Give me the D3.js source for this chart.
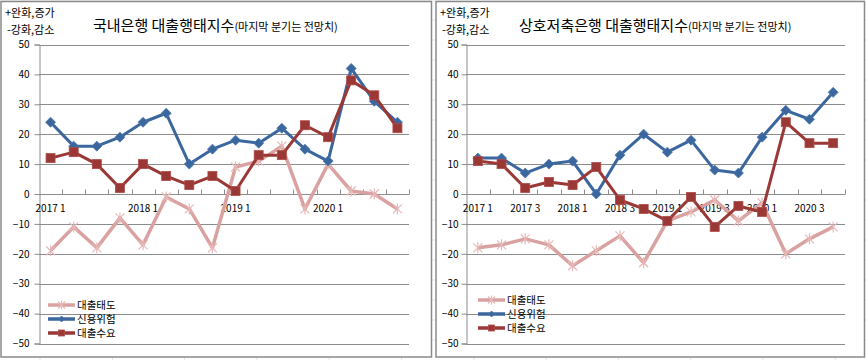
<!DOCTYPE html>
<html><head><meta charset="utf-8">
<script src="https://cdn.jsdelivr.net/npm/d3@7"></script>
<style>
html,body{margin:0;padding:0;background:#fff;}
svg{display:block;}
text{font-family:"Noto Sans CJK KR","Noto Sans",sans-serif;fill:#000;}
</style></head>
<body>
<svg id="c" width="866" height="360"></svg>
<script>
// ---------- DATA ----------
const quarters = ["2017 1","2017 2","2017 3","2017 4","2018 1","2018 2","2018 3","2018 4",
                  "2019 1","2019 2","2019 3","2019 4","2020 1","2020 2","2020 3","2020 4"];
const seriesNames = ["대출태도","신용위험","대출수요"];
const yTicks = [50,40,30,20,10,0,-10,-20,-30,-40,-50];

// 국내은행
const bankAttitude = [-19,-11,-18,-8,-17,-1,-5,-18,9,11,16,-5,10,1,0,-5];
const bankRisk     = [24,16,16,19,24,27,10,15,18,17,22,15,11,42,31,24];
const bankDemand   = [12,14,10,2,10,6,3,6,1,13,13,23,19,38,33,22];
const bankLabels   = ["2017 1","2018 1","2019 1","2020 1"];

// 상호저축은행
const savAttitude = [-18,-17,-15,-17,-24,-19,-14,-23,-9,-6,-2,-9,-3,-20,-15,-11];
const savRisk     = [12,12,7,10,11,0,13,20,14,18,8,7,19,28,25,34];
const savDemand   = [11,10,2,4,3,9,-2,-5,-9,-1,-11,-4,-6,24,17,17];
const savLabels   = ["2017 1","2017 3","2018 1","2018 3","2019 1","2019 3","2020 1","2020 3"];

// ---------- STYLE ----------
const colPink = "#D9A2A0", colBlue = "#3B679E", colRed = "#9A3836";
const gridCol = "#8c8c8c";

const svg = d3.select("#c");

// faint spreadsheet background grid
const bg = svg.append("g");
for (let x = 40; x < 866; x += 72.3) bg.append("line").attr("x1",x).attr("x2",x).attr("y1",0).attr("y2",360).attr("stroke","#e3e3e3");
for (let y = 0; y < 360; y += 20) bg.append("line").attr("x1",0).attr("x2",866).attr("y1",y).attr("y2",y).attr("stroke","#e3e3e3");

function chart(cfg){
  const g = svg.append("g");
  g.append("rect").attr("x",cfg.bx).attr("y",1.5).attr("width",cfg.bw).attr("height",355.5)
    .attr("fill","#fff").attr("stroke","#8a8a8a").attr("stroke-width",1.5);

  const y = d3.scaleLinear().domain([-50,50]).range([343.5,44.5]);
  const x = d3.scaleBand().domain(quarters).range([cfg.x0,cfg.x1]).padding(0);
  const cx = q => x(q) + x.bandwidth()/2;

  // gridlines
  g.append("g").selectAll("line").data(yTicks).join("line")
    .attr("x1",cfg.x0).attr("x2",cfg.x1).attr("y1",d=>Math.round(y(d))+0.5).attr("y2",d=>Math.round(y(d))+0.5)
    .attr("stroke",gridCol).attr("stroke-width",1);

  // y axis
  const ya = g.append("g").attr("transform",`translate(${cfg.x0+0.5},0)`)
    .call(d3.axisLeft(y).tickValues(yTicks).tickSize(5).tickPadding(cfg.labPad).tickFormat(d3.format("d")));
  ya.select(".domain").attr("stroke",gridCol);
  ya.selectAll(".tick line").attr("stroke",gridCol);
  ya.selectAll(".tick text").attr("font-size","10px").attr("font-family",'"Noto Sans CJK KR",sans-serif');

  // x axis at 0 : boundary ticks + labels
  const y0 = Math.round(y(0))+0.5;
  const bounds = quarters.map(q=>x(q)).concat([cfg.x1]).slice(1);
  g.append("g").selectAll("line").data(bounds).join("line")
    .attr("x1",d=>Math.round(d)+0.5).attr("x2",d=>Math.round(d)+0.5).attr("y1",y0-5).attr("y2",y0)
    .attr("stroke",gridCol);
  g.append("g").selectAll("text").data(cfg.labels).join("text")
    .attr("x",d=>cx(d)).attr("y",y0+17).attr("text-anchor","middle").attr("font-size","10px").text(d=>d);

  const line = d3.line().x((d,i)=>cx(quarters[i])).y(d=>y(d));
  const series = [
    {name:seriesNames[0], data:cfg.att, color:colPink, w:3.5, m:"star"},
    {name:seriesNames[1], data:cfg.risk, color:colBlue, w:3, m:"diamond"},
    {name:seriesNames[2], data:cfg.dem, color:colRed, w:3, m:"square"}
  ];
  function marker(sel, m, color, s){
    if (m==="star"){
      sel.append("path").attr("d",`M${-s},${-s}L${s},${s}M${-s},${s}L${s},${-s}M0,${-s-1}L0,${s+1}`)
        .attr("stroke","#E6B9B8").attr("stroke-width",1.2).attr("fill","none");
    } else if (m==="diamond"){
      sel.append("path").attr("d",`M0,${-s}L${s},0L0,${s}L${-s},0Z`).attr("fill",color).attr("stroke","#4a78b0").attr("stroke-width",0.8);
    } else {
      sel.append("rect").attr("x",-s).attr("y",-s).attr("width",2*s).attr("height",2*s).attr("fill",color).attr("stroke","#b04a48").attr("stroke-width",0.8);
    }
  }
  series.forEach(s=>{
    g.append("path").datum(s.data).attr("d",line).attr("fill","none").attr("stroke",s.color)
      .attr("stroke-width",s.w).attr("stroke-linejoin","round");
    const mk = g.append("g").selectAll("g").data(s.data).join("g")
      .attr("transform",(d,i)=>`translate(${cx(quarters[i])},${y(d)})`);
    mk.each(function(){ marker(d3.select(this), s.m, s.color, s.m==="star"?4.5:(s.m==="diamond"?5:4.5)); });
  });

  // legend
  series.forEach((s,i)=>{
    const ly = cfg.legY + i*14;
    const lg = g.append("g");
    lg.append("line").attr("x1",cfg.legX).attr("x2",cfg.legX+27).attr("y1",ly).attr("y2",ly)
      .attr("stroke",s.color).attr("stroke-width",3.5);
    const mg = lg.append("g").attr("transform",`translate(${cfg.legX+13.5},${ly})`);
    marker(mg, s.m, s.color, s.m==="star"?3.5:3);
    lg.append("text").attr("x",cfg.legX+29).attr("y",ly+4).attr("font-size","10.5px").text(s.name);
  });

  // titles
  g.append("text").attr("x",cfg.bx+4).attr("y",17).attr("font-size","11px").text("+완화,증가");
  g.append("text").attr("x",cfg.bx+6).attr("y",34).attr("font-size","11px").text("-강화,감소");
  const t = g.append("text").attr("x",cfg.tx).attr("y",31);
  t.append("tspan").attr("font-size","15px").text(cfg.title);
  t.append("tspan").attr("font-size","11px").text("(마지막 분기는 전망치)");
}

chart({bx:1, bw:430.5, x0:39, x1:409, labPad:5, labels:bankLabels,
  att:bankAttitude, risk:bankRisk, dem:bankDemand, legX:48, legY:305, tx:93, title:"국내은행 대출행태지수"});
chart({bx:436, bw:428.5, x0:466, x1:845, labPad:3, labels:savLabels,
  att:savAttitude, risk:savRisk, dem:savDemand, legX:478, legY:300, tx:519, title:"상호저축은행 대출행태지수"});
</script>
</body></html>
